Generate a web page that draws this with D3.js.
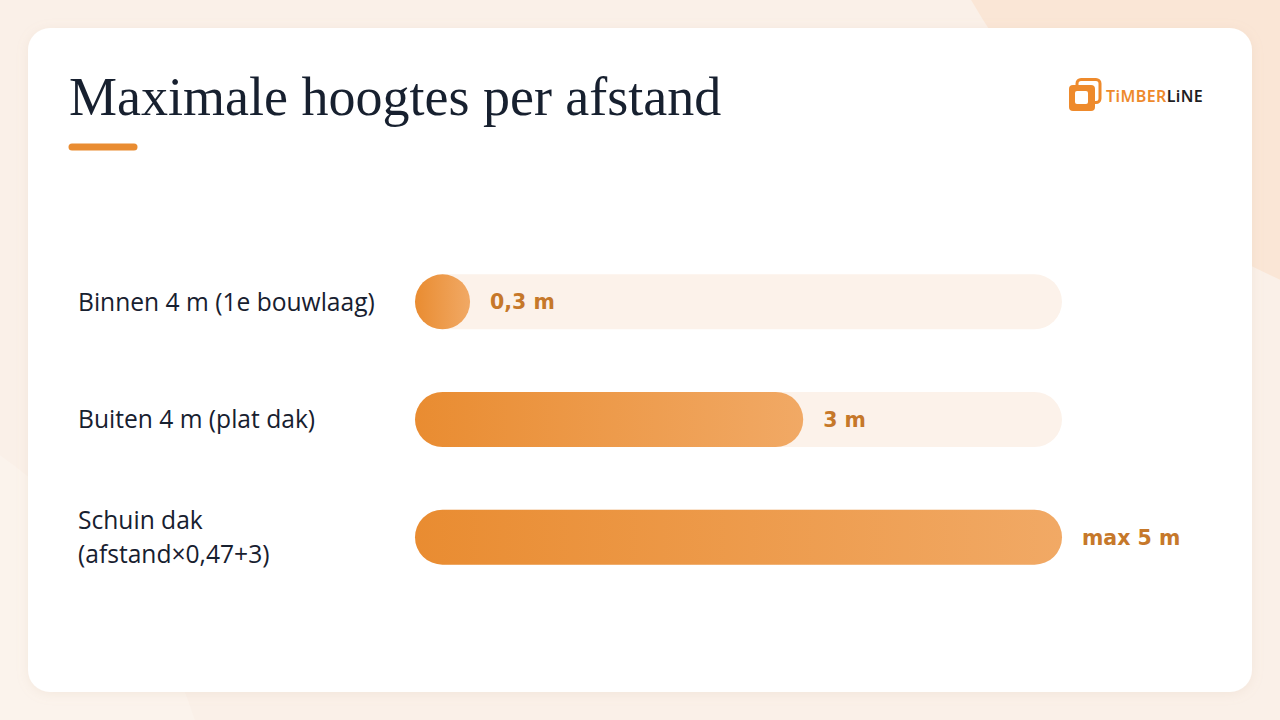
<!DOCTYPE html>
<html lang="nl">
<head>
<meta charset="UTF-8">
<title>Maximale hoogtes per afstand</title>
<script src="https://cdn.jsdelivr.net/npm/d3@7"></script>
<style>
    html, body { margin: 0; padding: 0; background: #FAF0E8; }
    svg { display: block; }
</style>
</head>
<body>
<script>
    // data
    var categories = [["Binnen 4 m (1e bouwlaag)"], ["Buiten 4 m (plat dak)"], ["Schuin dak", "(afstand×0,47+3)"]];
    var values = [0.3, 3, 5];
    var valueLabels = ["0,3 m", "3 m", "max 5 m"];
    var maxValue = 5;

    var width = 1280, height = 720;
    var svg = d3.select("body").append("svg")
        .attr("width", width)
        .attr("height", height);

    var defs = svg.append("defs");
    var grad = defs.append("linearGradient").attr("id", "barGrad")
        .attr("x1", "0%").attr("x2", "100%").attr("y1", "0%").attr("y2", "0%");
    grad.append("stop").attr("offset", "0%").attr("stop-color", "#E98C31");
    grad.append("stop").attr("offset", "100%").attr("stop-color", "#F1A965");

    var shadow = defs.append("filter").attr("id", "shadow")
        .attr("x", "-5%").attr("y", "-5%").attr("width", "110%").attr("height", "110%");
    shadow.append("feDropShadow").attr("dx", 0).attr("dy", 2).attr("stdDeviation", 6)
        .attr("flood-color", "#C9A88A").attr("flood-opacity", 0.15);

    // background shapes
    svg.append("rect").attr("width", width).attr("height", height).attr("fill", "#FAF0E8");
    svg.append("circle").attr("cx", 1560).attr("cy", -340).attr("r", 680).attr("fill", "#FAE6D6");
    svg.append("circle").attr("cx", -300).attr("cy", 880).attr("r", 520).attr("fill", "#FBF3EC");

    // card
    svg.append("rect")
        .attr("x", 28).attr("y", 28).attr("width", 1224).attr("height", 664)
        .attr("rx", 22).attr("fill", "#FFFFFF")
        .attr("filter", "url(#shadow)");

    // title
    svg.append("text")
        .attr("x", 69).attr("y", 115)
        .attr("font-family", "'Liberation Serif', 'DejaVu Serif', serif")
        .attr("font-size", 54)
        .attr("fill", "#17202F")
        .text("Maximale hoogtes per afstand");

    svg.append("line")
        .attr("x1", 72).attr("x2", 134).attr("y1", 147).attr("y2", 147)
        .attr("stroke", "#E98C31").attr("stroke-width", 7)
        .attr("stroke-linecap", "round");

    // logo
    var logo = svg.append("g").attr("transform", "translate(1069,78)");
    logo.append("rect").attr("x", 0).attr("y", 7).attr("width", 26).attr("height", 26)
        .attr("rx", 4).attr("fill", "#EE8A2C");
    logo.append("rect").attr("x", 8).attr("y", 1.5).attr("width", 23).attr("height", 23)
        .attr("rx", 4).attr("fill", "none").attr("stroke", "#EE8A2C").attr("stroke-width", 3);
    logo.append("rect").attr("x", 6).attr("y", 13).attr("width", 13).attr("height", 13)
        .attr("rx", 2).attr("fill", "#FFFFFF");
    var logoText = logo.append("text").attr("x", 37).attr("y", 24)
        .attr("font-family", "'Noto Sans', sans-serif")
        .attr("font-size", 16).attr("font-weight", 600).attr("letter-spacing", 0.4);
    logoText.append("tspan").attr("fill", "#EE8A2C").text("TiMBER");
    logoText.append("tspan").attr("fill", "#1E1E24").text("LiNE");

    // scales
    var x = d3.scaleLinear().domain([0, maxValue]).range([415, 1062]);
    var y = d3.scaleBand().domain(d3.range(values.length)).range([243, 596])
        .paddingInner(0.532).paddingOuter(0.266);
    var barH = y.bandwidth();

    var rows = svg.append("g").selectAll("g")
        .data(values)
        .join("g")
        .attr("transform", function (d, i) { return "translate(0," + y(i) + ")"; });

    // track
    rows.append("rect")
        .attr("x", x(0)).attr("y", 0)
        .attr("width", x(maxValue) - x(0)).attr("height", barH)
        .attr("rx", barH / 2).attr("fill", "#FCF2EA");

    // bar
    rows.append("rect")
        .attr("x", x(0)).attr("y", 0)
        .attr("width", function (d) { return Math.max(barH, x(d) - x(0)); })
        .attr("height", barH)
        .attr("rx", barH / 2).attr("fill", "url(#barGrad)");

    // value label
    rows.append("text")
        .attr("x", function (d) { return x(0) + Math.max(barH, x(d) - x(0)) + 20; })
        .attr("y", barH / 2)
        .attr("dy", "0.36em")
        .attr("font-family", "'DejaVu Sans', sans-serif")
        .attr("font-weight", 700)
        .attr("font-size", 20.5)
        .attr("fill", "#C6782A")
        .text(function (d, i) { return valueLabels[i]; });

    // category label
    rows.append("text")
        .attr("x", 78)
        .attr("font-family", "'Open Sans', sans-serif")
        .attr("font-weight", 500)
        .attr("font-size", 24.6)
        .attr("fill", "#17202F")
        .each(function (d, i) {
            var lines = categories[i];
            var lh = 34;
            var t = d3.select(this);
            lines.forEach(function (s, k) {
                t.append("tspan")
                    .attr("x", 78)
                    .attr("y", barH / 2 + (k - (lines.length - 1) / 2) * lh)
                    .attr("dy", "0.36em")
                    .text(s);
            });
        });
</script>
</body>
</html>
